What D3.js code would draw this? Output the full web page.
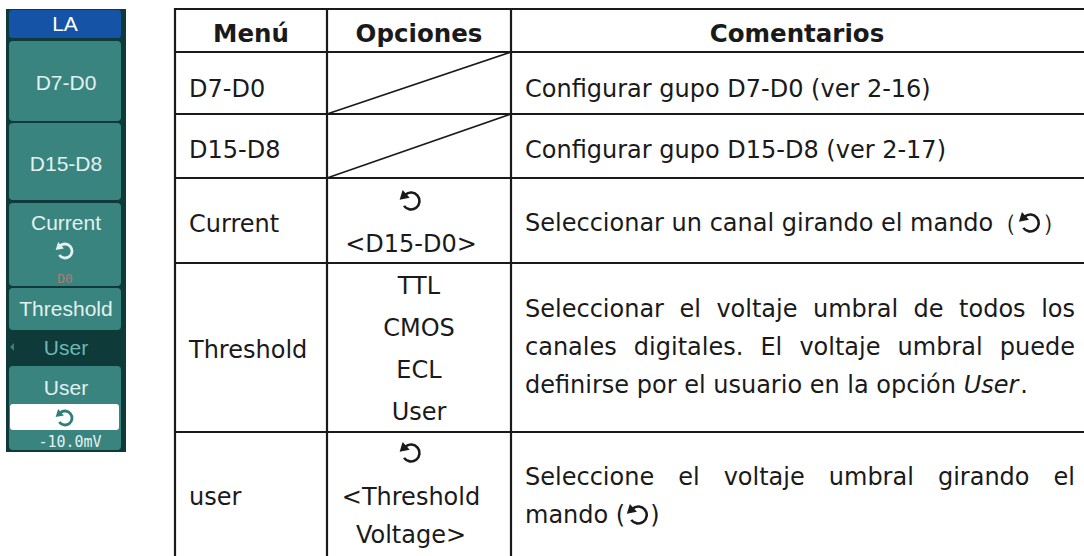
<!DOCTYPE html>
<html>
<head>
<meta charset="utf-8">
<script src="https://cdn.jsdelivr.net/npm/d3@7/dist/d3.min.js"></script>
<style>
  html, body { margin: 0; padding: 0; background: #ffffff; }
  svg { display: block; }
</style>
</head>
<body>
<script>
// ---------------- DATA ----------------
const headers = ["Menú", "Opciones", "Comentarios"];
const menus = ["D7-D0", "D15-D8", "Current", "Threshold", "user"];
// "{knob}" marks the rotary-knob symbol; empty list = diagonal line cell
const options = [
  [],
  [],
  ["{knob}", "<D15-D0>"],
  ["TTL", "CMOS", "ECL", "User"],
  ["{knob}", "<Threshold", "Voltage>"]
];
// *word* = italic
const comments = [
  ["Configurar gupo D7-D0 (ver 2-16)"],
  ["Configurar gupo D15-D8 (ver 2-17)"],
  ["Seleccionar un canal girando el mando（{knob}）"],
  ["Seleccionar el voltaje umbral de todos los",
   "canales digitales. El voltaje umbral puede",
   "definirse por el usuario en la opción *User*."],
  ["Seleccione el voltaje umbral girando el",
   "mando ({knob})"]
];
const justifyFlags = [[false], [false], [false], [true, true, false], [true, false]];

// oscilloscope soft-menu panel
const panelTitle = "LA";
const panelButtons = ["D7-D0", "D15-D8", "Current", "Threshold", "User"];
const panelCurrentValue = "D0";
const panelThresholdValue = "User";
const panelUserValue = "-10.0mV";

// ---------------- LAYOUT ----------------
const W = 1084, H = 556;
const svg = d3.select("body").append("svg").attr("width", W).attr("height", H);
svg.append("rect").attr("width", W).attr("height", H).attr("fill", "#ffffff");

const colEdges = [175, 327, 511, 1090];
const rowEdges = [9, 52, 114, 178, 263, 432, 570];
const xCol = d3.scaleOrdinal().domain([0, 1, 2, 3]).range(colEdges);
const yRow = d3.scaleOrdinal().domain(d3.range(rowEdges.length)).range(rowEdges);

const INK = "#1a1a1a";
const FONT = "'DejaVu Sans', Verdana, sans-serif";
const FS = 24;

// knob symbol: circular arrow with arrow head at the left pointing left/down
function knob(g, cx, cy, r, color, sw) {
  const a0 = 228 * Math.PI / 180, a1 = 505 * Math.PI / 180;
  const p = d3.path();
  p.arc(cx, cy, r, a0, a1, false);
  g.append("path").attr("d", p.toString()).attr("fill", "none")
    .attr("stroke", color).attr("stroke-width", sw);
  const sx = cx + r * Math.cos(a0), sy = cy + r * Math.sin(a0);
  const tx = Math.sin(a0), ty = -Math.cos(a0); // ccw tangent
  const nx = -ty, ny = tx;
  const L = r * 0.9, Wd = r * 0.62;
  const tip = [sx + tx * L, sy + ty * L];
  const b1 = [sx - tx * L * 0.15 + nx * Wd, sy - ty * L * 0.15 + ny * Wd];
  const b2 = [sx - tx * L * 0.15 - nx * Wd, sy - ty * L * 0.15 - ny * Wd];
  g.append("path").attr("d", `M${tip}L${b1}L${b2}Z`).attr("fill", color);
}

// ---------------- TABLE ----------------
const table = svg.append("g");

table.selectAll("line.h").data(d3.range(rowEdges.length - 1)).join("line")
  .attr("x1", xCol(0) - 1).attr("x2", W)
  .attr("y1", i => yRow(i)).attr("y2", i => yRow(i))
  .attr("stroke", INK).attr("stroke-width", 2.2);
table.selectAll("line.v").data([0, 1, 2]).join("line")
  .attr("x1", i => xCol(i)).attr("x2", i => xCol(i))
  .attr("y1", yRow(0) - 1).attr("y2", H)
  .attr("stroke", INK).attr("stroke-width", 2.2);

// header
table.selectAll("text.hdr").data(headers).join("text")
  .attr("x", (d, i) => (xCol(i) + (i === 2 ? 1083 : xCol(i + 1))) / 2)
  .attr("y", 42)
  .attr("text-anchor", "middle")
  .attr("font-family", FONT).attr("font-weight", "bold").attr("font-size", 24.5)
  .attr("fill", INK).text(d => d);

// diagonal lines for empty option cells
options.forEach((opts, r) => {
  if (opts.length === 0) {
    table.append("line")
      .attr("x1", xCol(1)).attr("y1", yRow(r + 2))
      .attr("x2", xCol(2)).attr("y2", yRow(r + 1))
      .attr("stroke", INK).attr("stroke-width", 1.8);
  }
});

// menu column
const menuBaselines = [97, 158, 232, 358, 505];
table.selectAll("text.menu").data(menus).join("text")
  .attr("x", xCol(0) + 14).attr("y", (d, i) => menuBaselines[i])
  .attr("font-family", FONT).attr("font-size", FS).attr("fill", INK)
  .text(d => d);

// options column
const optBaselines = [[], [], [201, 252], [294, 336, 378, 420], [453, 505, 543]];
const optCenter = 419;
options.forEach((opts, r) => {
  opts.forEach((o, k) => {
    const y = optBaselines[r][k];
    if (o === "{knob}") {
      knob(table, 411, y, 8.5, INK, 2.6);
    } else {
      const shift = o.startsWith("<") || o.endsWith(">") ? -8 : 0;
      table.append("text").attr("x", optCenter + shift).attr("y", y)
        .attr("text-anchor", "middle")
        .attr("font-family", FONT).attr("font-size", FS).attr("fill", INK)
        .text(o);
    }
  });
});

// comments column
const comBaselines = [[97], [158], [231], [317, 355, 393], [485, 523]];
const cx0 = 525, cx1 = 1075;

function measure(str, italic) {
  const t = svg.append("text").attr("font-family", FONT).attr("font-size", FS)
    .attr("font-style", italic ? "italic" : "normal").attr("xml:space", "preserve").text(str);
  const w = t.node().getComputedTextLength();
  t.remove();
  return w;
}
function segments(line) {
  const out = [];
  const re = /(\{knob\}|\*[^*]+\*)/g;
  let last = 0, m;
  while ((m = re.exec(line)) !== null) {
    if (m.index > last) out.push({ type: "t", s: line.slice(last, m.index) });
    if (m[0] === "{knob}") out.push({ type: "k" });
    else out.push({ type: "i", s: m[0].slice(1, -1) });
    last = m.index + m[0].length;
  }
  if (last < line.length) out.push({ type: "t", s: line.slice(last) });
  return out;
}
comments.forEach((lines, r) => {
  lines.forEach((line, k) => {
    const y = comBaselines[r][k];
    if (justifyFlags[r][k]) {
      const words = line.split(" ");
      const ws = words.map(w => measure(w, false));
      const gap = (cx1 - cx0 - d3.sum(ws)) / (words.length - 1);
      let x = cx0;
      words.forEach((w, j) => {
        table.append("text").attr("x", x).attr("y", y)
          .attr("font-family", FONT).attr("font-size", FS).attr("fill", INK).text(w);
        x += ws[j] + gap;
      });
    } else {
      let x = cx0;
      segments(line).forEach(seg => {
        if (seg.type === "k") {
          knob(table, x + 13, y - 8, 8.5, INK, 2.6);
          x += 25;
        } else {
          const it = seg.type === "i";
          table.append("text").attr("x", x).attr("y", y)
            .attr("xml:space", "preserve")
            .attr("font-family", FONT).attr("font-size", FS)
            .attr("font-style", it ? "italic" : "normal")
            .attr("fill", INK).text(seg.s);
          x += measure(seg.s, it) + (it ? 2 : 0);
        }
      });
    }
  });
});

// ---------------- OSCILLOSCOPE MENU PANEL ----------------
const P = svg.append("g");
const DARK = "#0e3b3a", TEAL = "#3a847f", LIGHT = "#e2f1ef";
const PFONT = "'Liberation Sans', Arial, sans-serif";
P.append("rect").attr("x", 6).attr("y", 9).attr("width", 120).attr("height", 443).attr("fill", DARK);
P.append("rect").attr("x", 9).attr("y", 10).attr("width", 112).attr("height", 28)
  .attr("rx", 3).attr("fill", "#1553a6");
P.append("text").attr("x", 65).attr("y", 31).attr("text-anchor", "middle")
  .attr("font-family", PFONT).attr("font-size", 21).attr("fill", "#ffffff").text(panelTitle);

const btnSpans = [[41, 121], [123, 200], [203, 286], [288, 330], [366, 450]];
const yBtn = d3.scaleOrdinal().domain(panelButtons.map((d, i) => i)).range(btnSpans);
P.selectAll("rect.btn").data(panelButtons).join("rect")
  .attr("x", 9).attr("width", 112)
  .attr("y", (d, i) => yBtn(i)[0]).attr("height", (d, i) => yBtn(i)[1] - yBtn(i)[0])
  .attr("rx", 4).attr("fill", TEAL);
const btnTextY = [90, 171, 230, 316, 395];
P.selectAll("text.btn").data(panelButtons).join("text")
  .attr("x", 66).attr("y", (d, i) => btnTextY[i]).attr("text-anchor", "middle")
  .attr("font-family", PFONT).attr("font-size", 21).attr("fill", LIGHT)
  .text(d => d);
knob(P, 65, 251, 7, LIGHT, 2.8);
P.append("text").attr("x", 65).attr("y", 283).attr("text-anchor", "middle")
  .attr("font-family", "'DejaVu Sans Mono', monospace").attr("font-size", 13)
  .attr("fill", "#b07a70").text(panelCurrentValue);
P.append("path").attr("d", "M10,347L14,343L14,351Z").attr("fill", "#3d7c78");
P.append("text").attr("x", 66).attr("y", 355).attr("text-anchor", "middle")
  .attr("font-family", PFONT).attr("font-size", 21).attr("fill", "#6cb9b1")
  .text(panelThresholdValue);
P.append("rect").attr("x", 10).attr("y", 404).attr("width", 109).attr("height", 26)
  .attr("rx", 3).attr("fill", "#ffffff");
knob(P, 65, 418, 7, "#2f7f79", 2.8);
P.append("text").attr("x", 70).attr("y", 447).attr("text-anchor", "middle")
  .attr("font-family", "'DejaVu Sans Mono', monospace").attr("font-size", 15)
  .attr("fill", LIGHT).text(panelUserValue);
</script>
</body>
</html>
